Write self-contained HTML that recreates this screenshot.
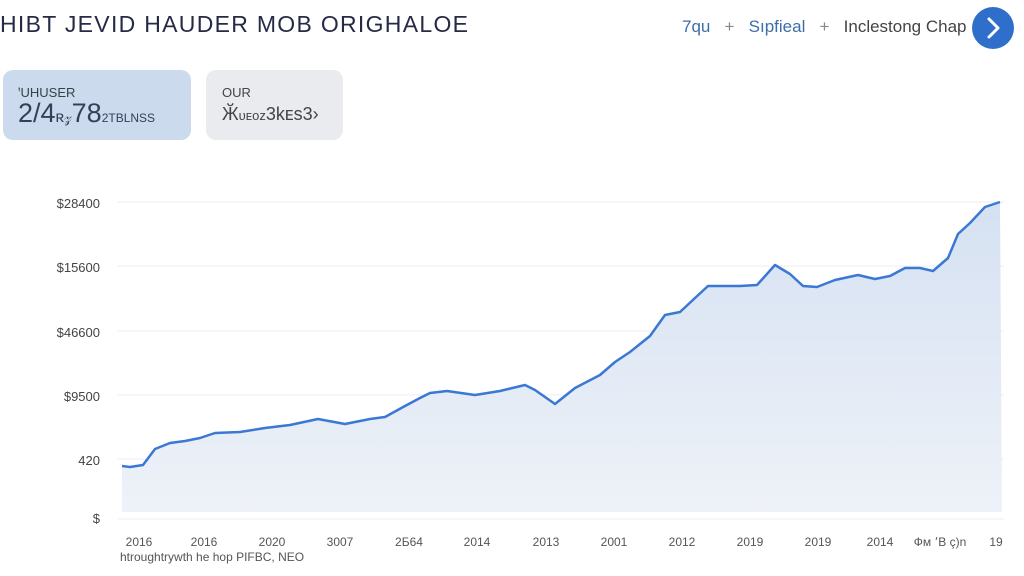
<!DOCTYPE html>
<html><head><meta charset="utf-8"><style>
body{margin:0;width:1024px;height:576px;background:#fff;font-family:"Liberation Sans",sans-serif;overflow:hidden;position:relative}
.t{position:absolute;white-space:nowrap}
</style></head><body>
<div class="t" style="left:0;top:11px;font-size:23px;color:#262b45;letter-spacing:1.3px">HIBT JEVID HAUDER MOB ORIGHALOE</div>
<div class="t" style="left:682px;top:17px;font-size:17px;color:#3d6ea8">7qu &nbsp;&nbsp;<span style="color:#888">+</span>&nbsp;&nbsp; Sıpfieal &nbsp;&nbsp;<span style="color:#888">+</span>&nbsp;&nbsp; <span style="color:#444">Inclestong Chap</span></div>
<div style="position:absolute;left:972px;top:7px;width:42px;height:42px;border-radius:50%;background:#2f6fcb"></div>
<svg width="42" height="42" style="position:absolute;left:972px;top:7px"><polyline points="17,12 26,21 17,30" fill="none" stroke="#fff" stroke-width="3" stroke-linecap="round" stroke-linejoin="round"/></svg>
<div style="position:absolute;left:3px;top:70px;width:188px;height:70px;border-radius:10px;background:#cbdaed"></div>
<div class="t" style="left:18px;top:85px;font-size:13px;color:#344">ꞌUHUSER</div>
<div class="t" style="left:18px;top:98px;font-size:27px;color:#34405a">2/4<span style="font-size:16px">ʀ𝓏</span>78<span style="font-size:12px">2TBLNSS</span></div>
<div style="position:absolute;left:206px;top:70px;width:137px;height:70px;border-radius:10px;background:#e9ebef"></div>
<div class="t" style="left:222px;top:85px;font-size:13px;color:#444">OUR</div>
<div class="t" style="left:222px;top:104px;font-size:18px;color:#444">Ӂ<span style="font-size:13px">ᴜᴇoᴢ</span>3kᴇs3›</div>
<svg width="1024" height="576" style="position:absolute;left:0;top:0">
<defs><linearGradient id="g" x1="0" y1="0" x2="0" y2="1"><stop offset="0" stop-color="#d5e1f2"/><stop offset="1" stop-color="#eef2f8"/></linearGradient></defs>
<g stroke="#eceef2" stroke-width="1">
<line x1="118" y1="202" x2="1004" y2="202"/><line x1="118" y1="266" x2="1004" y2="266"/><line x1="118" y1="331" x2="1004" y2="331"/><line x1="118" y1="395" x2="1004" y2="395"/><line x1="118" y1="459" x2="1004" y2="459"/><line x1="118" y1="519" x2="1004" y2="519"/></g>
<path d="M122,466 L130,467 143,465 155,449 170,443 185,441 200,438 215,433 240,432 265,428 290,425 318,419 345,424 370,419 385,417 405,406 420,398 430,393 447,391 475,395 500,391 525,385 535,390 555,404 575,388 600,375 615,362 630,352 650,336 665,315 680,312 695,298 708,286 720,286 740,286 757,285 775,265 790,274 803,286 817,287 835,280 858,275 875,279 890,276 905,268 920,268 933,271 948,258 958,234 970,223 985,207 1000,202 L1002,512 L122,512 Z" fill="url(#g)"/>
<polyline points="122,466 130,467 143,465 155,449 170,443 185,441 200,438 215,433 240,432 265,428 290,425 318,419 345,424 370,419 385,417 405,406 420,398 430,393 447,391 475,395 500,391 525,385 535,390 555,404 575,388 600,375 615,362 630,352 650,336 665,315 680,312 695,298 708,286 720,286 740,286 757,285 775,265 790,274 803,286 817,287 835,280 858,275 875,279 890,276 905,268 920,268 933,271 948,258 958,234 970,223 985,207 1000,202" fill="none" stroke="#3a78d4" stroke-width="2.5" stroke-linejoin="round"/>
<g font-family="Liberation Sans" font-size="13" fill="#444" text-anchor="end">
<text x="100" y="208">$28400</text><text x="100" y="272">$15600</text><text x="100" y="337">$46600</text><text x="100" y="401">$9500</text><text x="100" y="465">420</text><text x="100" y="523">$</text></g>
<g font-family="Liberation Sans" font-size="12" fill="#555" text-anchor="middle">
<text x="139" y="546">2016</text><text x="204" y="546">2016</text><text x="272" y="546">2020</text><text x="340" y="546">3007</text><text x="409" y="546">2Б64</text><text x="477" y="546">2014</text><text x="546" y="546">2013</text><text x="614" y="546">2001</text><text x="682" y="546">2012</text><text x="750" y="546">2019</text><text x="818" y="546">2019</text><text x="880" y="546">2014</text><text x="940" y="546">Фм ՚B ç)n</text><text x="996" y="546">19</text></g>
<text x="120" y="561" font-family="Liberation Sans" font-size="12" fill="#555">htroughtrywth he hop PIFBC, NEO</text>
</svg>
</body></html>
